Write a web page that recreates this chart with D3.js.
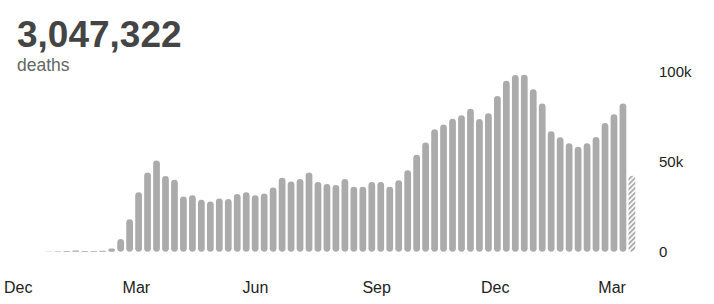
<!DOCTYPE html>
<html>
<head>
<meta charset="utf-8">
<script src="https://cdn.jsdelivr.net/npm/d3@7"></script>
<style>
  html, body { margin: 0; padding: 0; background: #fff; }
  svg { display: block; font-family: "Liberation Sans", Arial, Helvetica, sans-serif; }
</style>
</head>
<body>
<svg id="chart" width="714" height="304"></svg>
<script>
// ---- data ----
const totalDeaths = "3,047,322";
const totalLabel = "deaths";
// weekly deaths (first week starts 2019-12-30), last week is partial
const weeklyDeaths = [
  50, 300, 400, 600, 400, 400, 500,
  1800, 7000, 18000, 33000, 44000, 50700, 42000, 40000, 30700, 31400,
  28900, 27900, 29600, 29300, 32000, 33000, 31300, 32400, 35600, 41100,
  39000, 40400, 44000, 38700, 37600, 37000, 40400, 36100, 36100, 38700,
  38700, 36100, 39700, 45200, 53900, 60600, 68000, 70600, 73900, 75800,
  79400, 73700, 76900, 86500, 95000, 98200, 98300, 90200, 82400, 66900,
  63600, 60200, 58300, 60200, 63700, 71500, 76300, 82400, 42200
];
const partialFlags = weeklyDeaths.map((d, i) => i === weeklyDeaths.length - 1);
const weekStarts = d3.timeWeek.every(1).range(new Date(2019, 11, 29), new Date(2021, 3, 10)).slice(0, weeklyDeaths.length);
const monthTicks = [new Date(2019, 11, 1), new Date(2020, 2, 1), new Date(2020, 5, 1), new Date(2020, 8, 1), new Date(2020, 11, 1), new Date(2021, 2, 1)];
const monthLabels = ["Dec", "Mar", "Jun", "Sep", "Dec", "Mar"];
const yTicks = [0, 50000, 100000];
const yTickLabels = ["0", "50k", "100k"];

// ---- layout ----
const svg = d3.select("#chart");
const barColor = "#ababab";

const x = d3.scaleBand()
  .domain(weekStarts.map(d => +d))
  .range([44.4, 636.4])
  .paddingInner(0.25)
  .paddingOuter(0.125);

const xTime = d3.scaleTime()
  .domain([monthTicks[0], monthTicks[monthTicks.length - 1]])
  .range([4, 598.3]);

const y = d3.scaleLinear().domain([0, 100000]).range([251.7, 71.7]);

// hatch pattern
const defs = svg.append("defs");
const pat = defs.append("pattern")
  .attr("id", "hatch")
  .attr("patternUnits", "userSpaceOnUse")
  .attr("width", 3.5).attr("height", 3.5)
  .attr("patternTransform", "rotate(45)");
pat.append("rect").attr("width", 3.5).attr("height", 3.5).attr("fill", "#fff");
pat.append("rect").attr("width", 1.9).attr("height", 3.5).attr("fill", barColor);

// title
svg.append("text")
  .attr("x", 17).attr("y", 46.7)
  .attr("font-size", 37).attr("font-weight", "bold")
  .attr("fill", "#444")
  .text(totalDeaths);
svg.append("text")
  .attr("x", 17).attr("y", 71.2)
  .attr("font-size", 17.5)
  .attr("fill", "#666")
  .text(totalLabel);

// bars
const bw = x.bandwidth();
svg.append("g").selectAll("rect")
  .data(weeklyDeaths)
  .join("rect")
  .attr("x", (d, i) => x(+weekStarts[i]))
  .attr("y", d => y(d))
  .attr("width", bw)
  .attr("height", d => y(0) - y(d))
  .attr("rx", d => Math.min(bw / 2, (y(0) - y(d)) / 2))
  .attr("fill", (d, i) => partialFlags[i] ? "url(#hatch)" : barColor);

// x axis labels
svg.append("g").selectAll("text")
  .data(monthTicks)
  .join("text")
  .attr("x", d => xTime(d))
  .attr("y", 292.7)
  .attr("font-size", 16)
  .attr("fill", "#222")
  .text((d, i) => monthLabels[i]);

// y axis labels
svg.append("g").selectAll("text")
  .data(yTicks)
  .join("text")
  .attr("x", 659)
  .attr("y", d => y(d))
  .attr("dy", "0.35em")
  .attr("font-size", 15)
  .attr("fill", "#222")
  .text((d, i) => yTickLabels[i]);
</script>
</body>
</html>
